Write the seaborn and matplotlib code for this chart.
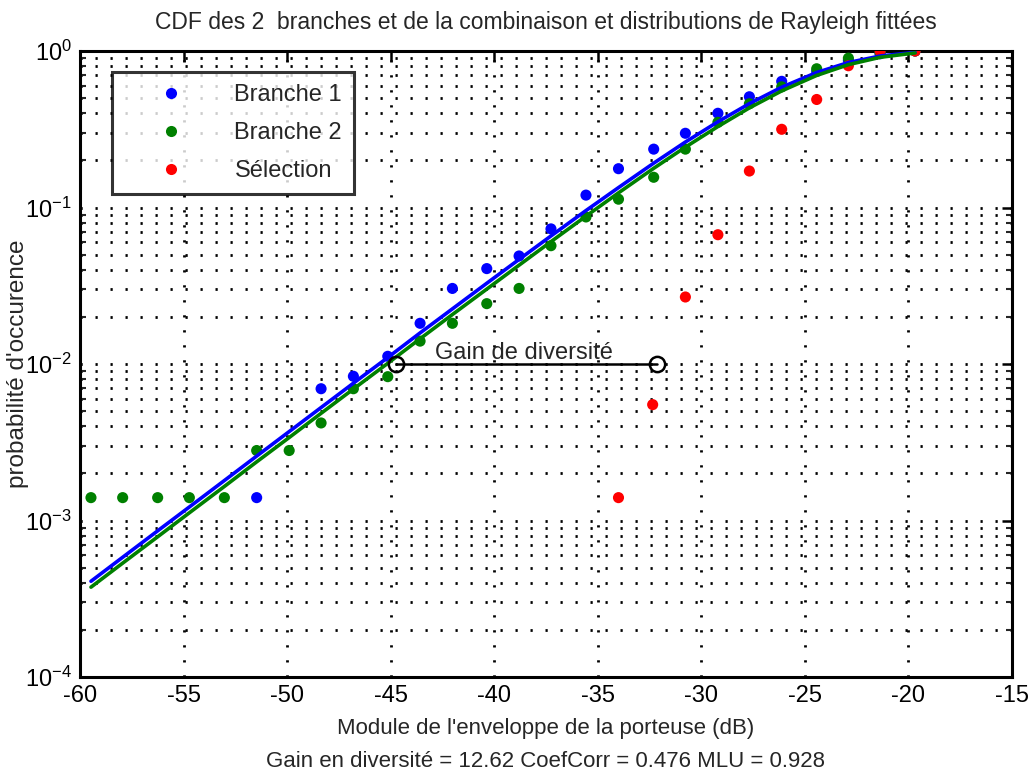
import numpy as np
import pandas as pd
import matplotlib
matplotlib.use("Agg")
import matplotlib.pyplot as plt
import seaborn as sns
from matplotlib.ticker import LogLocator, FixedLocator, NullFormatter

# ---------------- data ----------------
b1_x = [-51.47, -48.36, -46.80, -45.14, -43.58, -42.02, -40.36, -38.80, -37.26,
        -35.57, -34.00, -32.30, -30.77, -29.20, -27.68, -26.12, -24.43, -22.90,
        -21.37, -19.68]
b1_y = [1.4e-3, 6.95e-3, 8.35e-3, 1.12e-2, 1.82e-2, 3.04e-2, 4.07e-2, 4.9e-2, 7.3e-2,
        1.2e-1, 1.77e-1, 2.36e-1, 2.98e-1, 4.0e-1, 5.1e-1, 6.4e-1, 7.4e-1, 0.87,
        0.96, 1.0]

b2_x = [-59.47, -57.94, -56.25, -54.72, -53.03, -51.47, -49.90, -48.36, -46.80,
        -45.14, -43.58, -42.02, -40.36, -38.80, -37.26, -35.57, -34.00, -32.30,
        -30.77, -29.20, -27.68, -26.12, -24.43, -22.90, -21.37, -19.68]
b2_y = [1.4e-3, 1.4e-3, 1.4e-3, 1.4e-3, 1.4e-3, 2.8e-3, 2.8e-3, 4.2e-3, 6.95e-3,
        8.3e-3, 1.4e-2, 1.82e-2, 2.43e-2, 3.04e-2, 5.7e-2, 8.7e-2, 1.13e-1, 1.56e-1,
        2.36e-1, 3.5e-1, 4.6e-1, 5.9e-1, 7.7e-1, 9.0e-1, 0.97, 1.0]

sel_x = [-34.00, -32.35, -30.77, -29.20, -27.68, -26.12, -24.43, -22.90, -21.37, -19.68]
sel_y = [1.4e-3, 5.5e-3, 2.68e-2, 6.7e-2, 1.71e-1, 3.16e-1, 4.9e-1, 8.05e-1, 1.0, 1.0]

fit_x = [-59.47, -57.94, -56.25, -54.72, -53.03, -51.47, -49.90, -48.36, -46.80,
         -45.14, -43.58, -42.02, -40.36, -38.80, -37.26, -35.57, -34.00, -32.30,
         -30.77, -29.20, -27.68, -26.12, -24.43, -22.90, -21.37, -19.68]
fit1_y = [4.09e-4, 5.82e-4, 8.59e-4, 1.22e-3, 1.80e-3, 2.58e-3, 3.70e-3, 5.27e-3, 7.54e-3,
          1.10e-2, 1.58e-2, 2.25e-2, 3.28e-2, 4.66e-2, 6.58e-2, 0.0956, 0.134, 0.192,
          0.262, 0.353, 0.461, 0.587, 0.729, 0.844, 0.929, 0.980]
fit2_y = [3.75e-4, 5.34e-4, 7.87e-4, 1.12e-3, 1.65e-3, 2.37e-3, 3.39e-3, 4.84e-3, 6.92e-3,
          1.01e-2, 1.45e-2, 2.07e-2, 3.01e-2, 4.28e-2, 6.05e-2, 0.0880, 0.124, 0.178,
          0.243, 0.329, 0.433, 0.556, 0.698, 0.818, 0.911, 0.972]

gain_x = [-44.74, -32.12]
gain_y = [1e-2, 1e-2]

labels = ["Branche 1", "Branche 2", "Sélection"]
colors = ["#0000ff", "#008000", "#ff0000"]

title = "CDF des 2  branches et de la combinaison et distributions de Rayleigh fittées"
xlabel = "Module de l'enveloppe de la porteuse (dB)\nGain en diversité = 12.62 CoefCorr = 0.476 MLU = 0.928"
ylabel = "probabilité d'occurence"
xticks = [-60, -55, -50, -45, -40, -35, -30, -25, -20, -15]

# ---------------- build ----------------
sns.set_theme(style="white")
plt.rcParams["font.family"] = ["Liberation Sans", "DejaVu Sans"]
plt.rcParams["mathtext.fontset"] = "custom"
plt.rcParams["mathtext.rm"] = "Liberation Sans"
plt.rcParams["mathtext.default"] = "regular"

pts = pd.DataFrame({
    "x": b1_x + b2_x + sel_x,
    "y": b1_y + b2_y + sel_y,
    "serie": [labels[0]] * len(b1_x) + [labels[1]] * len(b2_x) + [labels[2]] * len(sel_x),
})
fits = pd.DataFrame({
    "x": fit_x + fit_x,
    "y": fit1_y + fit2_y,
    "fit": ["f1"] * len(fit_x) + ["f2"] * len(fit_x),
})

fig = plt.figure(figsize=(10.36, 7.84), dpi=100)
ax = fig.add_axes([80 / 1036, 1 - 677 / 784, 932 / 1036, 626 / 784])

sns.scatterplot(data=pts, x="x", y="y", hue="serie", hue_order=labels,
                palette=colors, s=64, linewidth=0, ax=ax, zorder=3)
sns.lineplot(data=fits, x="x", y="y", hue="fit", palette=["#0000ff", "#008000"],
             linewidth=2.6, ax=ax, legend=False, zorder=4, estimator=None, sort=False)

ax.set_yscale("log")
ax.set_xlim(-60, -15)
ax.set_ylim(1e-4, 1)

# gain annotation
ax.plot(gain_x, gain_y, color="black", lw=1.8, marker="o", markersize=11,
        markerfacecolor="none", markeredgewidth=1.8, zorder=5)
ax.text(-38.56, 1.07e-2, "Gain de diversité", fontsize=17, ha="center", va="baseline", zorder=6)

# ticks & grid (MATLAB-like)
ax.xaxis.set_major_locator(FixedLocator(xticks))
ax.set_xticklabels([str(t) for t in xticks])
ax.yaxis.set_major_locator(LogLocator(base=10, numticks=10))
ax.yaxis.set_minor_locator(LogLocator(base=10, subs=np.arange(2, 10), numticks=20))
ax.yaxis.set_minor_formatter(NullFormatter())
ax.tick_params(axis="both", which="major", direction="in", length=7, width=1.8,
               top=True, right=True, labelsize=17, pad=6, colors="black")
ax.tick_params(axis="y", which="minor", direction="in", length=4, width=1.5,
               left=True, right=True)
grid_ls = (0, (0.8, 4.6))
ax.grid(True, which="major", axis="both", color="black", linestyle=grid_ls, lw=2.0)
ax.grid(True, which="minor", axis="y", color="black", linestyle=grid_ls, lw=2.0)
for sp in ax.spines.values():
    sp.set_visible(True)
    sp.set_color("black")
    sp.set_linewidth(2.2)

ax.set_title(title, fontsize=16.5, pad=16)
ax.set_xlabel(xlabel, fontsize=16, linespacing=1.75, labelpad=8)
ax.set_ylabel(ylabel, fontsize=17.5, va="center")
ax.yaxis.set_label_coords(-0.066, 0.5)

handles, lbls = ax.get_legend_handles_labels()
leg = ax.legend(handles, lbls, loc="upper left", bbox_to_anchor=(0.034, 0.966),
                borderaxespad=0, frameon=True, fancybox=False, fontsize=17,
                handletextpad=0.7, handlelength=4.0, labelspacing=0.68,
                borderpad=0.5, markerscale=1.0)
leg.get_frame().set_edgecolor("black")
leg.get_frame().set_linewidth(2.2)
leg.set_zorder(10)

fig.savefig("out.png", dpi=100, facecolor="white")
